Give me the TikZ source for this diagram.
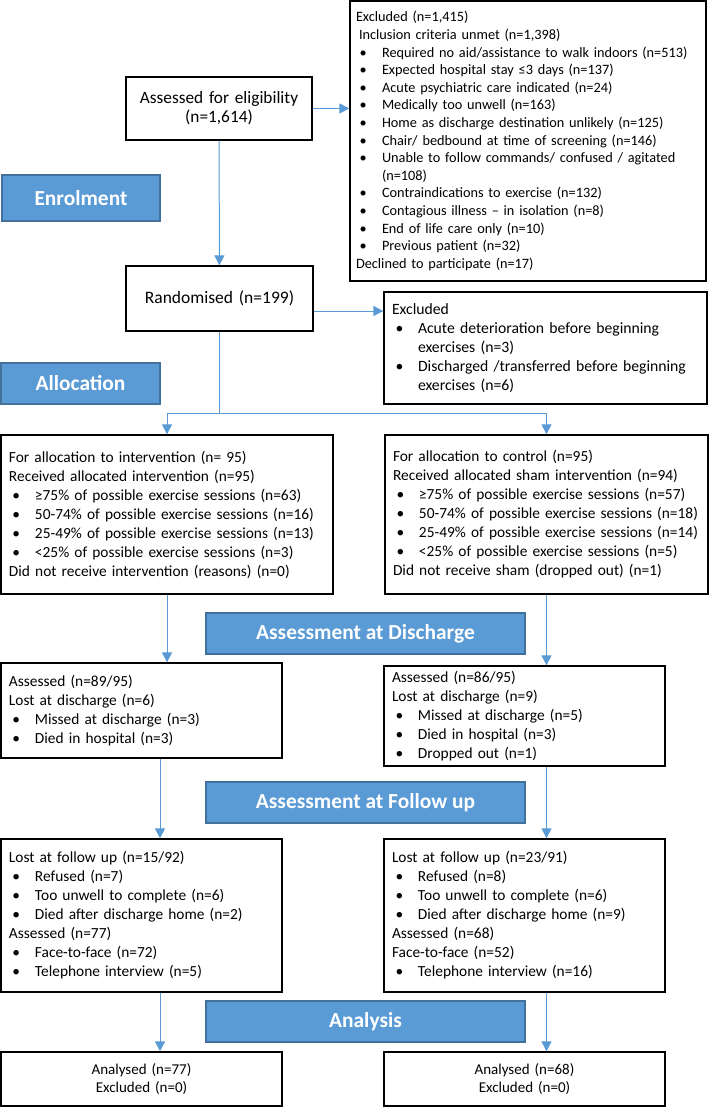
\documentclass[tikz,border=0pt]{standalone}
\usepackage{fontspec}
\setmainfont{Carlito}
\usetikzlibrary{arrows.meta}
\definecolor{stageblue}{HTML}{5B9BD5}
\definecolor{stageedge}{HTML}{41719C}
\newcommand{\itm}{\hspace*{3.5pt}\makebox[22.5pt][l]{\textbullet}}
\newcommand{\cont}{\hspace*{26pt}}

\begin{document}
\begin{tikzpicture}[x=1pt,y=-1pt,
  box/.style={draw=black, line width=1.3pt, inner ysep=0pt, inner xsep=8pt, align=left, font=\fontsize{15.4}{19}\selectfont},
  stage/.style={fill=stageblue, draw=stageedge, line width=1.3pt, text=white, inner sep=0pt, font=\fontsize{21.4}{25}\selectfont\bfseries},
  flow/.style={stageblue, line width=1pt, -{Triangle[width=10pt,length=10pt]}}]
\useasboundingbox (0,0) rectangle (710,1107);

% Enrolment
\node[box, align=center, font=\fontsize{17.3}{19}\selectfont, minimum width=186pt, text width=170pt, minimum height=63pt] (assess) at (219,108.5) {Assessed for eligibility\\(n=1,614)};
\node[box, font=\fontsize{14.3}{17.6}\selectfont, inner xsep=6pt, minimum width=356pt, text width=344pt, minimum height=280pt] (excl1) at (528,141) {Excluded (n=1,415)\\
\hspace*{3pt}Inclusion criteria unmet (n=1,398)\\
\itm Required no aid/assistance to walk indoors (n=513)\\
\itm Expected hospital stay ≤3 days (n=137)\\
\itm Acute psychiatric care indicated (n=24)\\
\itm Medically too unwell (n=163)\\
\itm Home as discharge destination unlikely (n=125)\\
\itm Chair/ bedbound at time of screening (n=146)\\
\itm Unable to follow commands/ confused / agitated\\
\cont(n=108)\\
\itm Contraindications to exercise (n=132)\\
\itm Contagious illness – in isolation (n=8)\\
\itm End of life care only (n=10)\\
\itm Previous patient (n=32)\\
Declined to participate (n=17)};
\node[stage, minimum width=158pt, minimum height=46pt] (enrol) at (81,198) {Enrolment};
\node[box, align=center, font=\fontsize{17.5}{19}\selectfont, minimum width=187pt, text width=171pt, minimum height=65pt] (rand) at (219.5,298.5) {Randomised (n=199)};
\node[box, font=\fontsize{15.7}{19}\selectfont, minimum width=323pt, text width=307pt, minimum height=112pt] (excl2) at (545.5,348) {Excluded\\
\itm Acute deterioration before beginning\\
\cont exercises (n=3)\\
\itm Discharged /transferred before beginning\\
\cont exercises (n=6)};
\draw[flow] (assess.east) -- (assess.east -| excl1.west);
\draw[flow] (assess) -- (rand);
\draw[flow] ([yshift=-12.5pt]rand.east) -- ([yshift=-12.5pt]rand.east -| excl2.west);

% Allocation
\node[stage, minimum width=159pt, minimum height=41pt] (alloc) at (80.5,383.5) {Allocation};
\node[box, minimum width=332pt, text width=316pt, minimum height=159pt] (interv) at (167,514.5) {For allocation to intervention (n= 95)\\
Received allocated intervention (n=95)\\
\itm ≥75\% of possible exercise sessions (n=63)\\
\itm 50-74\% of possible exercise sessions (n=16)\\
\itm 25-49\% of possible exercise sessions (n=13)\\
\itm <25\% of possible exercise sessions (n=3)\\
Did not receive intervention (reasons) (n=0)};
\node[box, minimum width=323pt, text width=307pt, minimum height=159pt] (ctrl) at (546.5,514.5) {For allocation to control (n=95)\\
Received allocated sham intervention (n=94)\\
\itm ≥75\% of possible exercise sessions (n=57)\\
\itm 50-74\% of possible exercise sessions (n=18)\\
\itm 25-49\% of possible exercise sessions (n=14)\\
\itm <25\% of possible exercise sessions (n=5)\\
Did not receive sham (dropped out) (n=1)};
\coordinate (split) at (219.5,413);
\draw[stageblue, line width=1pt] (rand.south) -- (split);
\draw[flow] (split) -| (interv.north);
\draw[flow] (split) -| (ctrl.north);

% Assessment at discharge
\node[stage, minimum width=319pt, minimum height=41pt] (dislbl) at (365.5,633.5) {Assessment at Discharge};
\node[box, minimum width=281pt, text width=265pt, minimum height=95pt] (disL) at (141.5,710.5) {Assessed (n=89/95)\\
Lost at discharge (n=6)\\
\itm Missed at discharge (n=3)\\
\itm Died in hospital (n=3)};
\node[box, minimum width=281pt, text width=265pt, minimum height=100pt] (disR) at (524.5,716) {Assessed (n=86/95)\\
Lost at discharge (n=9)\\
\itm Missed at discharge (n=5)\\
\itm Died in hospital (n=3)\\
\itm Dropped out (n=1)};
\draw[flow] (interv.south) -- (interv.south |- disL.north);
\draw[flow] (ctrl.south) -- (ctrl.south |- disR.north);

% Assessment at follow up
\node[stage, minimum width=319pt, minimum height=41pt] (fulbl) at (365.5,802.5) {Assessment at Follow up};
\node[box, minimum width=281pt, text width=265pt, minimum height=153pt] (fuL) at (141.5,915.5) {Lost at follow up (n=15/92)\\
\itm Refused (n=7)\\
\itm Too unwell to complete (n=6)\\
\itm Died after discharge home (n=2)\\
Assessed (n=77)\\
\itm Face-to-face (n=72)\\
\itm Telephone interview (n=5)};
\node[box, minimum width=281pt, text width=265pt, minimum height=153pt] (fuR) at (524.5,915.5) {Lost at follow up (n=23/91)\\
\itm Refused (n=8)\\
\itm Too unwell to complete (n=6)\\
\itm Died after discharge home (n=9)\\
Assessed (n=68)\\
Face-to-face (n=52)\\
\itm Telephone interview (n=16)};
\draw[flow] ([xshift=18.5pt]disL.south) -- ([xshift=18.5pt]disL.south |- fuL.north);
\draw[flow] (ctrl.south |- disR.south) -- (ctrl.south |- fuR.north);

% Analysis
\node[stage, minimum width=319pt, minimum height=41pt] (anlbl) at (365.5,1021.5) {Analysis};
\node[box, align=center, font=\fontsize{15}{18}\selectfont, minimum width=281pt, text width=265pt, minimum height=54pt] (anL) at (141.5,1079) {Analysed (n=77)\\Excluded (n=0)};
\node[box, align=center, font=\fontsize{15}{18}\selectfont, minimum width=281pt, text width=265pt, minimum height=54pt] (anR) at (524.5,1079) {Analysed (n=68)\\Excluded (n=0)};
\draw[flow] ([xshift=18.5pt]fuL.south) -- ([xshift=18.5pt]fuL.south |- anL.north);
\draw[flow] (ctrl.south |- fuR.south) -- (ctrl.south |- anR.north);
\end{tikzpicture}
\end{document}
